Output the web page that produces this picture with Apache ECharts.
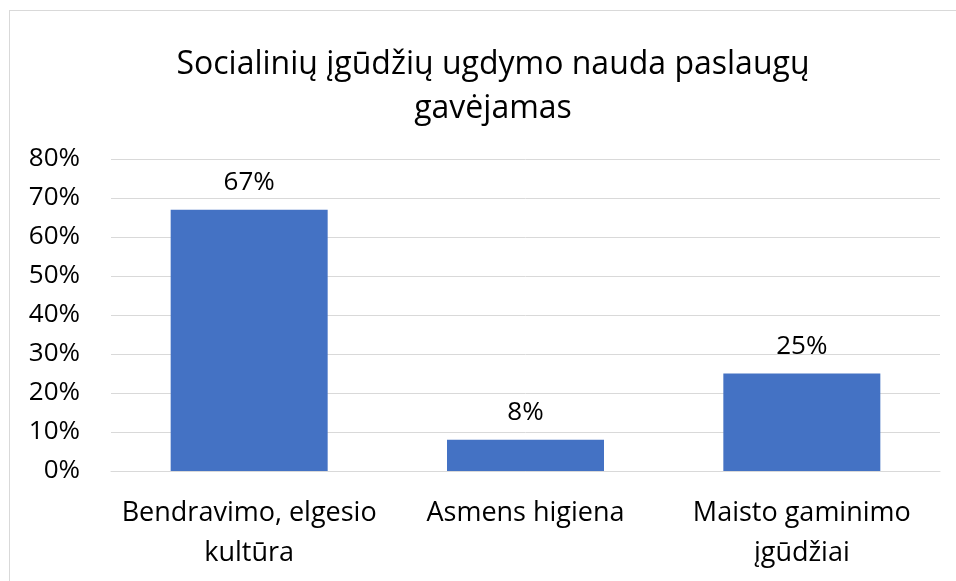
<!DOCTYPE html>
<html>
<head>
<meta charset="utf-8">
<script src="https://cdn.jsdelivr.net/npm/echarts@6/dist/echarts.min.js"></script>
<style>
  html, body { margin: 0; padding: 0; background: #fff; }
  #chart { width: 956px; height: 581px; }
  #frame { position: absolute; left: 9px; top: 10px; width: 960px; height: 580px; border: 1px solid #d9d9d9; }
</style>
</head>
<body>
<div id="frame"></div>
<div id="chart" style="position:absolute;left:0;top:0;"></div>
<script>
// duomenys
var categories = ["Bendravimo, elgesio\nkultūra", "Asmens higiena", "Maisto gaminimo\nįgūdžiai"];
var values = [67, 8, 25];
var titleText = "Socialinių įgūdžių ugdymo nauda paslaugų\ngavėjamas";

var chart = echarts.init(document.getElementById("chart"));
var font = "'Open Sans', 'Noto Sans', sans-serif";

chart.setOption({
  animation: false,
  title: {
    text: titleText,
    left: 488,
    top: 38,
    textAlign: "center",
    textStyle: {
      fontFamily: font,
      fontSize: 32,
      fontWeight: "normal",
      color: "#000",
      lineHeight: 44
    }
  },
  grid: {
    left: 111,
    right: 16,
    top: 159,
    bottom: 110
  },
  xAxis: {
    type: "category",
    data: categories,
    axisTick: { show: false },
    axisLine: { lineStyle: { color: "#d9d9d9", width: 1 } },
    axisLabel: {
      fontFamily: font,
      fontSize: 27,
      color: "#000",
      lineHeight: 40,
      margin: 22,
      interval: 0
    }
  },
  yAxis: {
    type: "value",
    min: 0,
    max: 80,
    interval: 10,
    axisLine: { show: false },
    axisTick: { show: false },
    splitLine: { lineStyle: { color: "#d9d9d9", width: 1 } },
    axisLabel: {
      fontFamily: font,
      fontSize: 26,
      color: "#000",
      margin: 31,
      formatter: "{value}%"
    }
  },
  series: [
    {
      type: "bar",
      data: values,
      barWidth: 157,
      itemStyle: { color: "#4472c4" },
      label: {
        show: true,
        position: "top",
        distance: 14,
        fontFamily: font,
        fontSize: 26,
        color: "#000",
        formatter: "{c}%"
      }
    }
  ]
});
</script>
</body>
</html>
